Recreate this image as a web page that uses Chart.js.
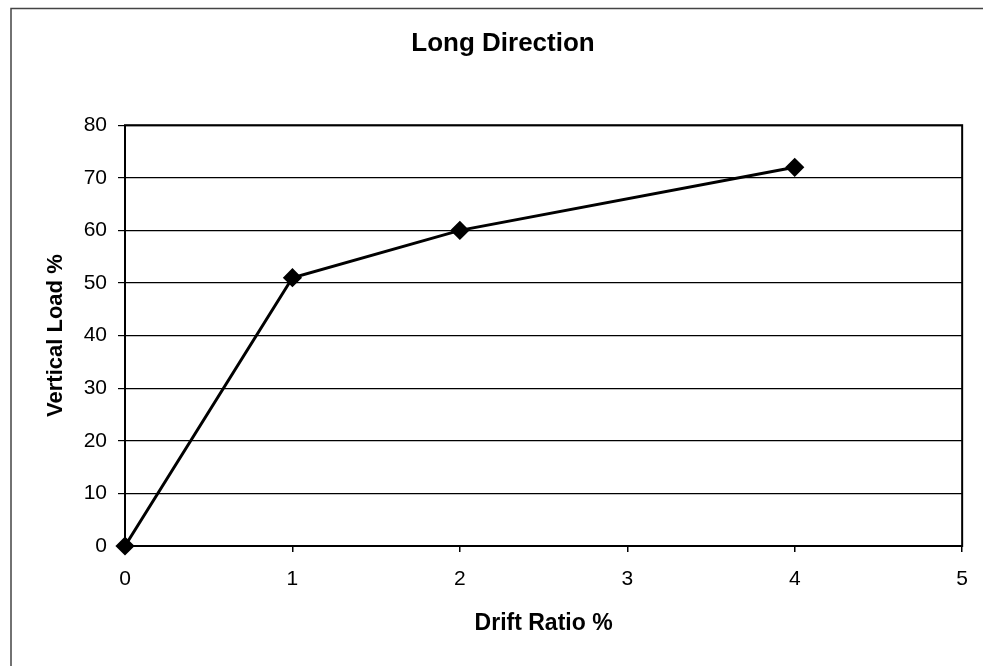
<!DOCTYPE html>
<html>
<head>
<meta charset="utf-8">
<script src="https://cdn.jsdelivr.net/npm/chart.js@4/dist/chart.umd.min.js"></script>
<style>
  html, body { margin: 0; padding: 0; background: #fff; }
  #wrap { width: 983px; height: 666px; position: relative; }
</style>
</head>
<body>
<div id="wrap"><canvas id="myChart"></canvas></div>
<script>
// drift ratio (%) vs vertical load (%)
const driftRatio = [0, 1, 2, 4];
const verticalLoad = [0, 51, 60, 72];
const xTicks = [0, 1, 2, 3, 4, 5];
const yTicks = [0, 10, 20, 30, 40, 50, 60, 70, 80];

const font = 'Arial, "Liberation Sans", Helvetica, sans-serif';

// page frame (scan edge) + box around the plot area
const frame = {
  id: 'frame',
  beforeDraw(chart) {
    const ctx = chart.ctx;
    ctx.save();
    ctx.strokeStyle = '#444';
    ctx.lineWidth = 1.5;
    ctx.beginPath();
    ctx.moveTo(11, 666);
    ctx.lineTo(11, 8.5);
    ctx.lineTo(983, 8.5);
    ctx.stroke();
    ctx.restore();
  },
  afterDatasetsDraw(chart) {
    const a = chart.chartArea;
    const ctx = chart.ctx;
    ctx.save();
    ctx.strokeStyle = '#000';
    ctx.lineWidth = 2;
    ctx.strokeRect(a.left, a.top, a.right - a.left, a.bottom - a.top);
    ctx.restore();
  }
};

function chart() {
  const data = {
    datasets: [{
      label: 'Long Direction',
      data: driftRatio.map((x, i) => ({ x: x, y: verticalLoad[i] })),
      borderColor: '#000',
      backgroundColor: '#000',
      borderWidth: 3,
      pointStyle: 'rectRot',
      pointRadius: 7.5,
      pointBackgroundColor: '#000',
      pointBorderColor: '#000',
      clip: false
    }]
  };

  const config = {
    type: 'line',
    data: data,
    plugins: [frame],
    options: {
      responsive: false,
      animation: false,
      layout: { padding: { left: 40, right: 17, top: 0, bottom: 0 } },
      plugins: {
        legend: { display: false },
        tooltip: { enabled: false },
        title: {
          display: true,
          text: 'Long Direction',
          color: '#000',
          font: { family: font, size: 26, weight: 'bold' },
          padding: { top: 28, bottom: 66 }
        }
      },
      scales: {
        x: {
          type: 'linear',
          min: 0,
          max: 5,
          afterBuildTicks: (s) => { s.ticks = xTicks.map(v => ({ value: v })); },
          afterFit: (s) => { s.height = 120; },
          ticks: { color: '#000', padding: 15, font: { family: font, size: 21 } },
          grid: { drawOnChartArea: false, drawTicks: true, tickLength: 6, color: '#000', lineWidth: 1.5 },
          border: { display: false },
          title: {
            display: true,
            text: 'Drift Ratio %',
            color: '#000',
            font: { family: font, size: 23, weight: 'bold' },
            padding: { top: 0, bottom: 29 }
          }
        },
        y: {
          min: 0,
          max: 80,
          afterBuildTicks: (s) => { s.ticks = yTicks.map(v => ({ value: v })); },
          afterFit: (s) => { s.width = 85; },
          ticks: { color: '#000', padding: 11, font: { family: font, size: 21 } },
          grid: { color: '#000', lineWidth: 1.2, tickLength: 7 },
          border: { display: false },
          title: {
            display: true,
            text: 'Vertical Load %',
            color: '#000',
            font: { family: font, size: 22, weight: 'bold' },
            padding: { top: 3, bottom: 0 }
          }
        }
      }
    }
  };

  const canvas = document.getElementById('myChart');
  canvas.width = 983;
  canvas.height = 666;
  return new Chart(canvas, config);
}

document.addEventListener('DOMContentLoaded', () => chart());
</script>
</body>
</html>
